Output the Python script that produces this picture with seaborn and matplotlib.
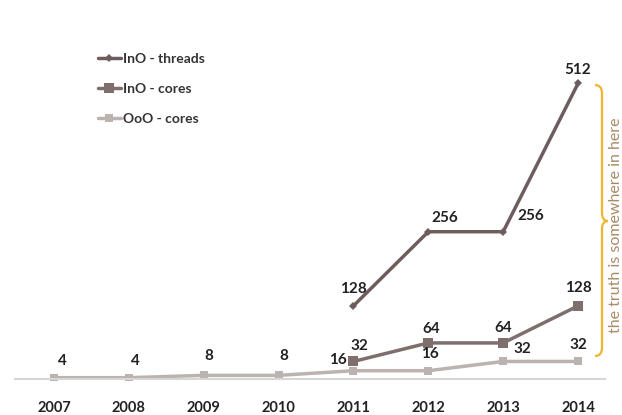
import pandas as pd
import matplotlib.pyplot as plt
import matplotlib.patches as mpatches
from matplotlib.path import Path
import seaborn as sns

# Data
years = [2007, 2008, 2009, 2010, 2011, 2012, 2013, 2014]
ino_thread_years = [2011, 2012, 2013, 2014]
ino_threads = [128, 256, 256, 512]
ino_core_years = [2011, 2012, 2013, 2014]
ino_cores = [32, 64, 64, 128]
ooo_cores = [4, 4, 8, 8, 16, 16, 32, 32]
series_names = ["InO - threads", "InO - cores", "OoO - cores"]
brace_note = "the truth is somewhere in here"


def main():
    df = pd.concat([
        pd.DataFrame({"year": ino_thread_years, "value": ino_threads, "series": series_names[0]}),
        pd.DataFrame({"year": ino_core_years, "value": ino_cores, "series": series_names[1]}),
        pd.DataFrame({"year": years, "value": ooo_cores, "series": series_names[2]}),
    ], ignore_index=True)

    sns.set_style("white")
    plt.rcParams["font.family"] = ["Lato", "DejaVu Sans"]
    plt.rcParams["font.weight"] = "bold"

    colors = {series_names[0]: "#6d5e5d", series_names[1]: "#7e6f6d", series_names[2]: "#bbb3b0"}
    markers = {series_names[0]: "D", series_names[1]: "s", series_names[2]: "s"}
    sizes = {series_names[0]: 4, series_names[1]: 7, series_names[2]: 6}

    fig = plt.figure(figsize=(6.22, 4.15), dpi=100)
    ax = fig.add_axes([15 / 622, 35 / 415, 590 / 622, 340 / 415])

    for name in series_names:
        sub = df[df["series"] == name]
        sns.lineplot(data=sub, x="year", y="value", ax=ax, color=colors[name],
                     marker=markers[name], markersize=sizes[name], linewidth=2.5,
                     markeredgewidth=0, label=name)

    # value labels (offsets in points, tuned per label)
    offsets = {
        series_names[0]: [(0, 12), (12, 10), (20, 11), (0, 10)],
        series_names[1]: [(4, 11), (2, 10), (0, 11), (0, 13)],
        series_names[2]: [(6, 12), (5, 12), (4, 14), (4, 14), (-11, 8), (1, 12), (14, 9), (0, 12)],
    }
    for name in series_names:
        sub = df[df["series"] == name].reset_index(drop=True)
        for i, row in sub.iterrows():
            dx, dy = offsets[name][i]
            ax.annotate(str(row["value"]), (row["year"], row["value"]),
                        xytext=(dx, dy), textcoords="offset points",
                        ha="center", va="center", fontsize=11,
                        fontweight="bold", color="#222222")

    ax.set_xlim(2006.48, 2014.36)
    ax.set_ylim(0, 587)
    ax.set_xticks(years)
    ax.set_xticklabels([str(y) for y in years])
    ax.set_yticks([])
    ax.tick_params(axis="x", length=0, pad=16, labelsize=10.5, labelcolor="#222222")
    ax.set_xlabel("")
    ax.set_ylabel("")
    for side in ["top", "right", "left"]:
        ax.spines[side].set_visible(False)
    ax.spines["bottom"].set_color("#d9d5d3")
    ax.spines["bottom"].set_linewidth(1.5)
    ax.spines["bottom"].set_position(("data", 2))

    leg = ax.legend(loc="upper left", bbox_to_anchor=(0.12, 1.0), frameon=False,
                    handlelength=1.6, handletextpad=0.15, labelspacing=1.3,
                    prop={"size": 10, "weight": "bold"})
    for t in leg.get_texts():
        t.set_color("#333333")

    # curly brace on the right, in pixel-ish figure coordinates
    trans = fig.transFigure
    x0, x1, x2 = 595 / 622, 602 / 622, 608 / 622
    yt, ym, yb = 1 - 85 / 415, 1 - 221 / 415, 1 - 356 / 415
    verts = [
        (x0, yt), (x1, yt), (x1, yt - 0.02),
        (x1, ym + 0.02),
        (x1, ym), (x2, ym),
        (x1, ym), (x1, ym - 0.02),
        (x1, yb + 0.02),
        (x1, yb), (x0, yb),
    ]
    codes = [Path.MOVETO, Path.CURVE3, Path.CURVE3,
             Path.LINETO,
             Path.CURVE3, Path.CURVE3,
             Path.CURVE3, Path.CURVE3,
             Path.LINETO,
             Path.CURVE3, Path.CURVE3]
    brace = mpatches.PathPatch(Path(verts, codes), transform=trans, fill=False,
                               edgecolor="#f0b52e", linewidth=1.6)
    fig.patches.append(brace)
    fig.text(616 / 622, 1 - 225 / 415, brace_note, rotation=90, ha="center",
             va="center", fontsize=11.5, fontweight="normal", color="#a88b68")

    fig.savefig("out.png", dpi=100)


if __name__ == "__main__":
    main()
